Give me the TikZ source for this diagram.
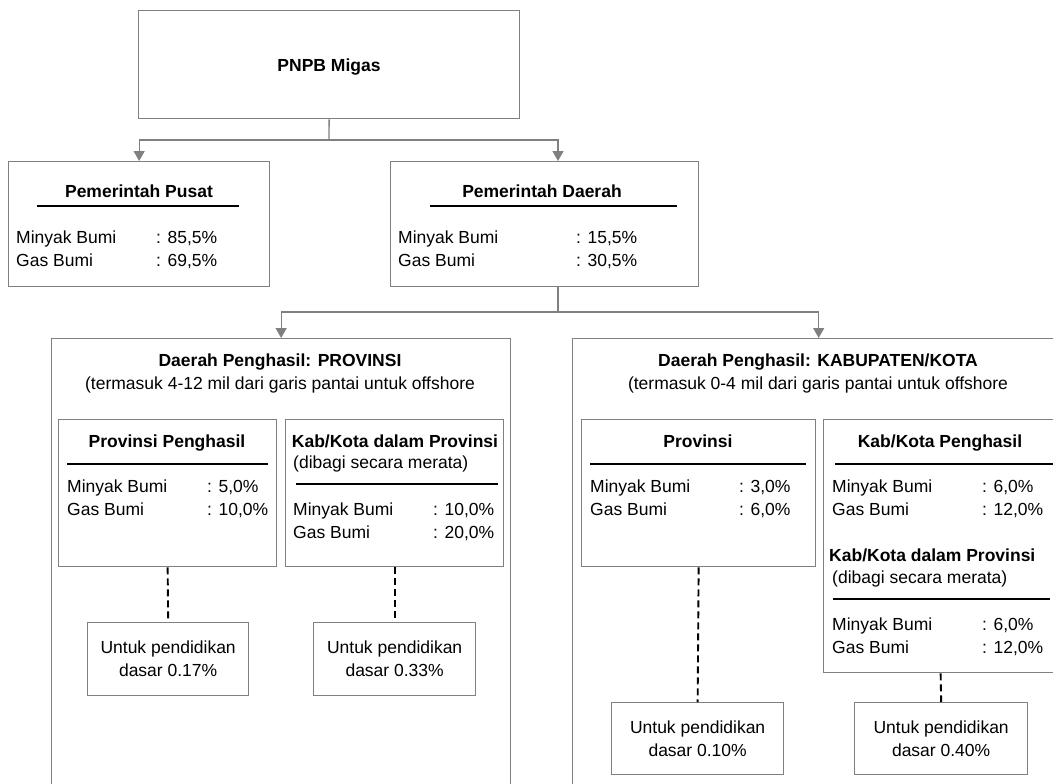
\documentclass[tikz,border=0pt]{standalone}
\usepackage{fontspec}
\setmainfont{Liberation Sans}
\usetikzlibrary{arrows.meta,calc}
\definecolor{boxgray}{HTML}{808080}
\tikzset{
 box/.style={draw=boxgray, line width=1.3pt, rectangle, inner sep=0pt, anchor=north west},
 edu/.style={draw=boxgray, line width=1.3pt, rectangle, inner sep=0pt, anchor=north west, align=center, font=\fontsize{17.5}{23}\selectfont},
 txt/.style={inner sep=0pt, anchor=base west, font=\fontsize{17.5}{21}\selectfont},
 btxt/.style={inner sep=0pt, anchor=base west, font=\fontsize{17.5}{21}\selectfont\bfseries},
 ttl/.style={inner sep=0pt, anchor=base, font=\fontsize{17.5}{21}\selectfont\bfseries},
 ctr/.style={inner sep=0pt, anchor=base, font=\fontsize{17.5}{21}\selectfont},
 rulebar/.style={line width=2.2pt, black},
 conn/.style={draw=boxgray, line width=1.3pt},
 arr/.style={conn, -{Triangle[width=11pt,length=10pt]}},
 dashln/.style={black, line width=1.9pt, dash pattern=on 7pt off 4pt},
}
\begin{document}
\begin{tikzpicture}[x=1pt,y=-1pt]
\useasboundingbox (0,0) rectangle (1053,784);
\clip (0,0) rectangle (1053,784);

% top
\node[box, minimum width=381pt, minimum height=108pt] (pnpb) at (138,10) {};
\node[ttl] (pnpbt) at (329,72) {PNPB Migas};

% Pemerintah Pusat
\node[box, minimum width=261pt, minimum height=125pt] (pusat) at (8,161) {};
\node[ttl] (pusatt) at (139,197) {Pemerintah Pusat};
\draw[rulebar] (37,206) -- (239,206);
\node[txt] (pu1) at (16,243) {Minyak Bumi};
\node[txt] (pu2) at (156,243) {: 85,5\%};
\node[txt] (pu3) at (16,266) {Gas Bumi};
\node[txt] (pu4) at (156,266) {: 69,5\%};

% Pemerintah Daerah
\node[box, minimum width=308pt, minimum height=125pt] (daerah) at (390,161) {};
\node[ttl] (daeraht) at (542,197) {Pemerintah Daerah};
\draw[rulebar] (430,206) -- (677,206);
\node[txt] (da1) at (398,243) {Minyak Bumi};
\node[txt] (da2) at (576,243) {: 15,5\%};
\node[txt] (da3) at (398,266) {Gas Bumi};
\node[txt] (da4) at (576,266) {: 30,5\%};

% big boxes
\node[box, minimum width=459pt, minimum height=470pt] (prov) at (51,338) {};
\node[ttl] (provt) at (280,366) {Daerah Penghasil: PROVINSI};
\node[ctr] (provs) at (280,389) {(termasuk 4-12 mil dari garis pantai untuk offshore};

\node[box, minimum width=492pt, minimum height=470pt] (kab) at (572,338) {};
\node[ttl] (kabt) at (818,366) {Daerah Penghasil: KABUPATEN/KOTA};
\node[ctr] (kabs) at (818,389) {(termasuk 0-4 mil dari garis pantai untuk offshore};

% Provinsi Penghasil
\node[box, minimum width=218pt, minimum height=147pt] (pp) at (58,419) {};
\node[ttl] (ppt) at (167,447) {Provinsi Penghasil};
\draw[rulebar] (67,464) -- (268,464);
\node[txt] (pp1) at (67,492) {Minyak Bumi};
\node[txt] (pp2) at (207,492) {: 5,0\%};
\node[txt] (pp3) at (67,515) {Gas Bumi};
\node[txt] (pp4) at (207,515) {: 10,0\%};

% Kab/Kota dalam Provinsi (left)
\node[box, minimum width=218pt, minimum height=147pt] (kdp) at (285,419) {};
\node[ttl] (kdpt) at (395,447) {Kab/Kota dalam Provinsi};
\node[txt] (kdps) at (293,468) {(dibagi secara merata)};
\draw[rulebar] (296,484) -- (498,484);
\node[txt] (kd1) at (293,515) {Minyak Bumi};
\node[txt] (kd2) at (433,515) {: 10,0\%};
\node[txt] (kd3) at (293,538) {Gas Bumi};
\node[txt] (kd4) at (433,538) {: 20,0\%};

% Provinsi (right)
\node[box, minimum width=234pt, minimum height=147pt] (pr) at (581,419) {};
\node[ttl] (prt) at (698,447) {Provinsi};
\draw[rulebar] (590,464) -- (806,464);
\node[txt] (pr1) at (590,492) {Minyak Bumi};
\node[txt] (pr2) at (739,492) {: 3,0\%};
\node[txt] (pr3) at (590,515) {Gas Bumi};
\node[txt] (pr4) at (739,515) {: 6,0\%};

% Kab/Kota Penghasil
\node[box, minimum width=234pt, minimum height=253pt] (kkp) at (823,419) {};
\node[ttl] (kkpt) at (940,447) {Kab/Kota Penghasil};
\draw[rulebar] (835,464) -- (1060,464);
\node[txt] (kk1) at (832,492) {Minyak Bumi};
\node[txt] (kk2) at (982,492) {: 6,0\%};
\node[txt] (kk3) at (832,515) {Gas Bumi};
\node[txt] (kk4) at (982,515) {: 12,0\%};
\node[btxt] (kk5) at (829,561) {Kab/Kota dalam Provinsi};
\node[txt] (kk6) at (832,583) {(dibagi secara merata)};
\draw[rulebar] (833,599) -- (1050,599);
\node[txt] (kk7) at (832,630) {Minyak Bumi};
\node[txt] (kk8) at (982,630) {: 6,0\%};
\node[txt] (kk9) at (832,653) {Gas Bumi};
\node[txt] (kk10) at (982,653) {: 12,0\%};

% education boxes
\node[edu, minimum width=161pt, minimum height=73pt] (e1) at (87,622) {Untuk pendidikan\\dasar 0.17\%};
\node[edu, minimum width=162pt, minimum height=73pt] (e2) at (313,622) {Untuk pendidikan\\dasar 0.33\%};
\node[edu, minimum width=172pt, minimum height=72pt] (e3) at (611,702) {Untuk pendidikan\\dasar 0.10\%};
\node[edu, minimum width=173pt, minimum height=72pt] (e4) at (854,702) {Untuk pendidikan\\dasar 0.40\%};

% connectors
\coordinate (j1) at (329,140);
\coordinate (dIn) at (558,161);
\draw[conn] (pnpb.south) -- (j1);
\draw[arr] (j1) -| (pusat.north);
\draw[arr] (j1) -| (dIn);
\coordinate (dOut) at (558,286);
\coordinate (j2) at (558,312);
\draw[conn] (dOut) -- (j2);
\draw[arr] (j2) -| (prov.north);
\draw[arr] (j2) -| (kab.north);

\draw[dashln] (pp.south) -- (e1.north);
\draw[dashln] (kdp.south) -- (e2.north);
\draw[dashln] (pr.south) -- (e3.north);
\draw[dashln] (kkp.south) -- (e4.north);
\end{tikzpicture}
\end{document}
